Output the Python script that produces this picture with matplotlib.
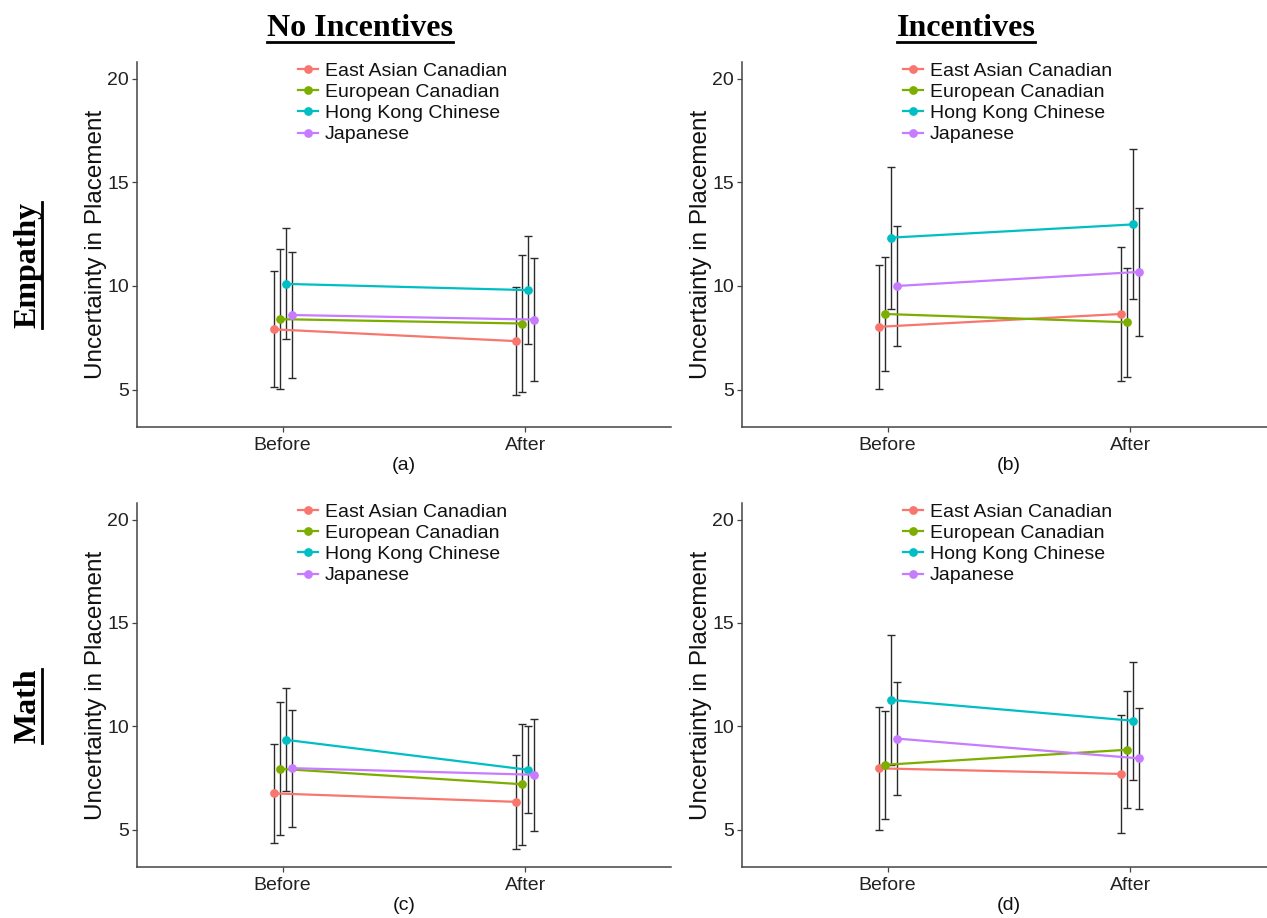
import numpy as np
import matplotlib
matplotlib.use("Agg")
import matplotlib.pyplot as plt
from matplotlib.lines import Line2D

# ---------------- data ----------------
groups = ["East Asian Canadian", "European Canadian", "Hong Kong Chinese", "Japanese"]
colors = ["#F8766D", "#7CAE00", "#00BFC4", "#C77CFF"]
times = ["Before", "After"]
panel_labels = ["(a)", "(b)", "(c)", "(d)"]
col_titles = ["No Incentives", "Incentives"]
row_titles = ["Empathy", "Math"]
yticks = [5, 10, 15, 20]

# means: rows = groups, cols = [Before, After]
mean_a = [[7.91, 7.34], [8.40, 8.19], [10.10, 9.80], [8.60, 8.38]]
err_a = [[2.79, 2.60], [3.38, 3.32], [2.68, 2.60], [3.03, 2.96]]

mean_b = [[8.03, 8.65], [8.65, 8.25], [12.33, 12.97], [10.00, 10.68]]
err_b = [[2.99, 3.21], [2.74, 2.63], [3.43, 3.62], [2.89, 3.10]]

mean_c = [[6.76, 6.35], [7.95, 7.20], [9.35, 7.90], [7.98, 7.66]]
err_c = [[2.40, 2.26], [3.22, 2.93], [2.49, 2.10], [2.83, 2.72]]

mean_d = [[7.97, 7.70], [8.14, 8.87], [11.28, 10.27], [9.41, 8.45]]
err_d = [[2.97, 2.87], [2.62, 2.84], [3.14, 2.86], [2.74, 2.46]]

panels = [(mean_a, err_a), (mean_b, err_b), (mean_c, err_c), (mean_d, err_d)]

# ---------------- figure ----------------
W, H = 1267, 918
fig = plt.figure(figsize=(W / 100, H / 100), dpi=100)
fig.patch.set_facecolor("white")

SANS = "Liberation Sans"
SERIF = "Liberation Serif"

def px_rect(left, top, width, height):
    return [left / W, 1 - (top + height) / H, width / W, height / H]

ax_w, ax_h = 534, 365
rects = [
    px_rect(137, 62, ax_w, ax_h),
    px_rect(742, 62, ax_w, ax_h),
    px_rect(137, 503, ax_w, 364),
    px_rect(742, 503, ax_w, 364),
]

dodge = 0.1
n = len(groups)
offsets = (np.arange(n) - (n - 1) / 2) * dodge / n
xbase = np.arange(1, len(times) + 1)

axes = []
for k, (means, errs) in enumerate(panels):
    ax = fig.add_axes(rects[k])
    axes.append(ax)
    means = np.array(means)
    errs = np.array(errs)
    for g in range(n):
        x = xbase + offsets[g]
        ax.errorbar(x, means[g], yerr=errs[g], fmt="none", ecolor="#2b2b2b",
                    elinewidth=1.0, capsize=2.6, capthick=1.0, zorder=1)
    handles = []
    for g in range(n):
        x = xbase + offsets[g]
        ln, = ax.plot(x, means[g], color=colors[g], lw=1.6, marker="o",
                      markersize=6.3, markeredgewidth=0, zorder=3, label=groups[g])
        handles.append(ln)
    ax.set_xlim(0.4, 2.6)
    ax.set_ylim(3.2, 20.8)
    ax.set_xticks(xbase)
    ax.set_xticklabels(times, fontsize=14, family=SANS, color="#222222")
    ax.set_yticks(yticks)
    ax.set_yticklabels([str(v) for v in yticks], fontsize=14, family=SANS, color="#222222")
    ax.tick_params(axis="both", length=3.8, width=0.9, color="#444444", pad=2)
    ax.tick_params(axis="x", pad=3.5)
    for s in ["top", "right"]:
        ax.spines[s].set_visible(False)
    for s in ["left", "bottom"]:
        ax.spines[s].set_color("#444444")
        ax.spines[s].set_linewidth(1.1)
    ax.set_ylabel("Uncertainty in Placement", fontsize=17.5, family=SANS,
                  color="#111111", labelpad=0)
    ax.set_facecolor("white")
    leg = ax.legend(handles=handles, loc="upper left", bbox_to_anchor=(0.302, 0.999),
                    frameon=False, borderpad=0, borderaxespad=0, handlelength=1.0,
                    handletextpad=0.35, labelspacing=0.18,
                    prop={"family": SANS, "size": 14})
    for t in leg.get_texts():
        t.set_color("#111111")
    # panel label below
    pos = ax.get_position()
    cx = (pos.x0 + pos.x1) / 2 * W
    cy = (1 - pos.y0) * H + 38
    fig.text(cx / W, 1 - cy / H, panel_labels[k], ha="center", va="center",
             fontsize=14, family=SANS, color="#111111")

# titles
title_objs = []
for j, t in enumerate(col_titles):
    cx = [360, 966][j]
    txt = fig.text(cx / W, 1 - 28 / H, t, ha="center", va="center",
                   fontsize=23, fontweight="bold", family=SERIF, color="black")
    title_objs.append(("h", txt))
for i, t in enumerate(row_titles):
    cy = [265, 706][i]
    txt = fig.text(28 / W, 1 - cy / H, t, ha="center", va="center", rotation=90,
                   fontsize=23, fontweight="bold", family=SERIF, color="black")
    title_objs.append(("v", txt))

fig.canvas.draw()
renderer = fig.canvas.get_renderer()
for kind, txt in title_objs:
    bb = txt.get_window_extent(renderer)
    if kind == "h":
        y = bb.y0 + 1
        fig.add_artist(Line2D([bb.x0 / W, bb.x1 / W], [y / H, y / H],
                              color="black", lw=2.0, transform=fig.transFigure))
    else:
        x = bb.x1 - 1
        fig.add_artist(Line2D([x / W, x / W], [bb.y0 / H, bb.y1 / H],
                              color="black", lw=2.0, transform=fig.transFigure))

fig.savefig("out.png", dpi=100, facecolor="white")
